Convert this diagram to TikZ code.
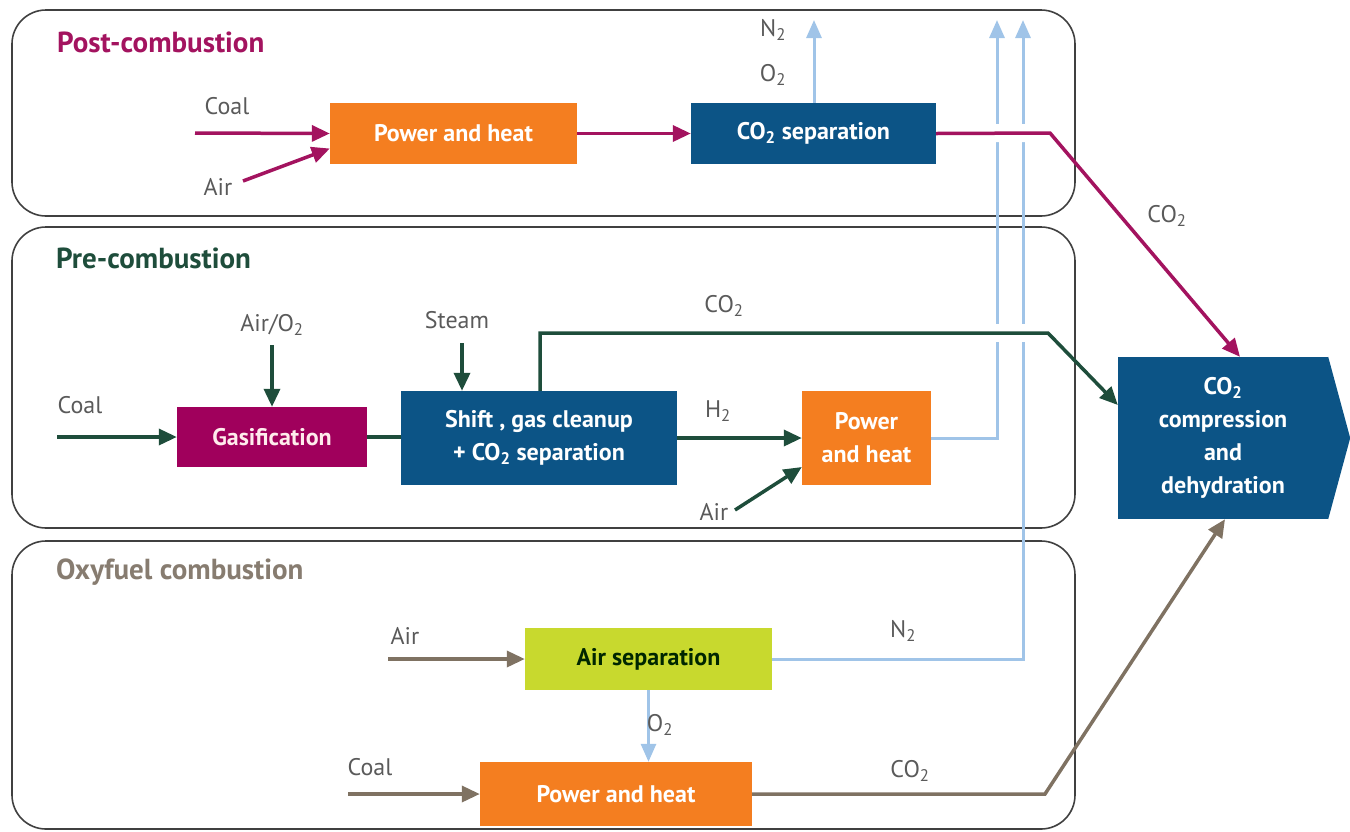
\documentclass[tikz,border=0pt]{standalone}
\usepackage{fontspec}
\setmainfont{PT Sans}
\usepackage{tikz}
\usetikzlibrary{arrows.meta,calc}
\definecolor{postmag}{HTML}{A3135F}
\definecolor{gasmag}{HTML}{A0005C}
\definecolor{pregreen}{HTML}{1E4D3B}
\definecolor{oxybrown}{HTML}{7F7262}
\definecolor{oxytitle}{HTML}{877C70}
\definecolor{heatorange}{HTML}{F47E20}
\definecolor{sepblue}{HTML}{0C5486}
\definecolor{gasblue}{HTML}{A0C4E8}
\definecolor{asulime}{HTML}{C8D92E}
\definecolor{labelgrey}{HTML}{5A5A5A}

\begin{document}
\begin{tikzpicture}[x=1pt,y=-1pt,
  panel/.style={draw=black!75,line width=1.6pt,rounded corners=34pt},
  title/.style={font=\fontsize{29}{32}\selectfont\bfseries,anchor=west,inner sep=0pt},
  stage/.style={inner sep=0pt,align=center,text=white,
    font=\fontsize{24}{33}\selectfont\bfseries},
  lbl/.style={font=\fontsize{24}{26}\selectfont,text=labelgrey,inner sep=0pt},
  flow/.style={line width=3.5pt,-{Triangle[length=18pt,width=16pt]}},
  pipe/.style={line width=3.5pt},
  gasline/.style={draw=gasblue,line width=3pt},
  gasflow/.style={gasline,-{Triangle[length=18pt,width=15pt]}},
  halo/.style={draw=white,line width=18pt}]
\useasboundingbox (0,0) rectangle (1350,831);

% three process panels
\draw[panel] (12,10) rectangle (1075,216);
\draw[panel] (12,227) rectangle (1075,528);
\draw[panel] (12,541) rectangle (1075,829);
\node[title,text=postmag] (ttlPost) at (57,42) {Post-combustion};
\node[title,text=pregreen] (ttlPre) at (56,258) {Pre-combustion};
\node[title,text=oxytitle] (ttlOxy) at (56,572) {Oxyfuel combustion};

% stages
\node[stage,fill=heatorange,minimum width=247pt,minimum height=61pt] (phPost) at (453.5,133.5) {Power and heat};
\node[stage,fill=sepblue,minimum width=245pt,minimum height=61pt] (sepPost) at (813.5,133.5) {CO\textsubscript{2} separation};
\node[stage,fill=gasmag,text=pink!30,minimum width=190pt,minimum height=60pt] (gasif) at (272,437) {Gasification};
\node[stage,fill=sepblue,minimum width=276pt,minimum height=94pt] (shift) at (539,438) {Shift , gas cleanup\\+ CO\textsubscript{2} separation};
\node[stage,fill=heatorange,minimum width=129pt,minimum height=94pt] (phPre) at (866.5,438) {Power\\and heat};
\node[stage,fill=asulime,text=black!85!green,minimum width=247pt,minimum height=62pt] (airsep) at (648.5,659) {Air separation};
\node[stage,fill=heatorange,minimum width=272pt,minimum height=64pt] (phOxy) at (616,794) {Power and heat};
\node[stage,fill=sepblue,minimum width=210pt,minimum height=162pt] (cmp) at (1223,438) {CO\textsubscript{2}\\compression\\and\\dehydration};
\fill[sepblue] (cmp.north east) -- ([xshift=22pt]cmp.east) -- (cmp.south east) -- cycle;

% free ends
\coordinate (coalPost) at (195,133);
\coordinate (airPost) at (243,181);
\coordinate (bendPost) at (1050,133);
\coordinate (coalPre) at (57,437);
\coordinate (airO2In) at (272,345);
\coordinate (steamIn) at (462,343);
\coordinate (co2Pre) at (540,333);
\coordinate (bendPre) at (1048,333);
\coordinate (airPre) at (735,510);
\coordinate (airOxy) at (388,659);
\coordinate (coalOxy) at (348,794);
\coordinate (bendOxy) at (1045,794);
\coordinate (outA) at (997,20);
\coordinate (outB) at (1023,20);
\coordinate (outC) at (814,20);

% N2 / O2 streams
\draw[gasflow] (sepPost.north -| outC) -- (outC);
\draw[gasflow] (phPre.east) -- (outA |- phPre.east) -- (outA);
\draw[gasflow] (airsep.east) -- (outB |- airsep.east) -- (outB);
\draw[gasflow] (airsep.south) -- (airsep.south |- phOxy.north);

% gaps where the CO2 lines cross
\draw[halo] (sepPost.east) -- (bendPost);
\draw[halo] (co2Pre) -- (bendPre);

% post-combustion
\draw[flow,postmag] (coalPost) -- (phPost.west);
\draw[flow,postmag] (airPost) -- ([yshift=-15pt]phPost.west);
\draw[flow,postmag] (phPost.east) -- (sepPost.west);
\draw[flow,postmag] (sepPost.east) -- (bendPost) -- ([xshift=17pt]cmp.north);

% pre-combustion
\draw[flow,pregreen] (coalPre) -- (gasif.west);
\draw[flow,pregreen] (airO2In) -- (gasif.north);
\draw[pipe,pregreen] (gasif.east) -- (shift.west |- gasif.east);
\draw[flow,pregreen] (steamIn) -- (steamIn |- shift.north);
\draw[flow,pregreen] (shift.north -| co2Pre) -- (co2Pre) -- (bendPre) -- ([yshift=33pt]cmp.west);
\draw[flow,pregreen] (shift.east) -- (phPre.west);
\draw[flow,pregreen] (airPre) -- ([yshift=-29pt]phPre.west);

% oxyfuel
\draw[flow,oxybrown] (airOxy) -- (airsep.west);
\draw[flow,oxybrown] (coalOxy) -- (phOxy.west);
\draw[flow,oxybrown] (phOxy.east) -- (bendOxy) -- ([xshift=2pt]cmp.south);

% stream labels
\node[lbl] (lCoalPost) at (227,106) {Coal};
\node[lbl] (lAirPost) at (218,187) {Air};
\node[lbl] (lN2Post) at (773,30) {N\textsubscript{2}};
\node[lbl] (lO2Post) at (773,75) {O\textsubscript{2}};
\node[lbl] (lCO2Post) at (1167,216) {CO\textsubscript{2}};
\node[lbl] (lCoalPre) at (80,405) {Coal};
\node[lbl] (lAirO2) at (272,325) {Air/O\textsubscript{2}};
\node[lbl] (lSteam) at (457,320) {Steam};
\node[lbl] (lCO2Pre) at (724,306) {CO\textsubscript{2}};
\node[lbl] (lH2) at (718,411) {H\textsubscript{2}};
\node[lbl] (lAirPre) at (714,512) {Air};
\node[lbl] (lAirOxy) at (405,636) {Air};
\node[lbl] (lN2Oxy) at (903,631) {N\textsubscript{2}};
\node[lbl] (lO2Oxy) at (660,725) {O\textsubscript{2}};
\node[lbl] (lCoalOxy) at (370,767) {Coal};
\node[lbl] (lCO2Oxy) at (910,771) {CO\textsubscript{2}};
\end{tikzpicture}
\end{document}
